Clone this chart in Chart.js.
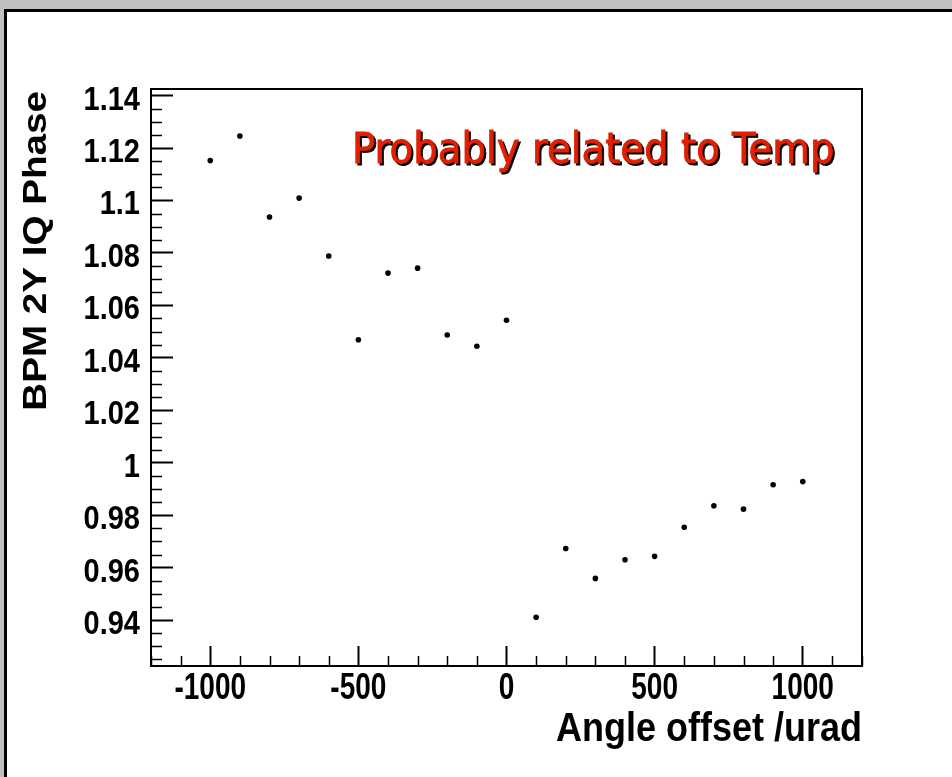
<!DOCTYPE html>
<html>
<head>
<meta charset="utf-8">
<title>BPM 2Y IQ Phase vs angle offset</title>
<script src="https://cdn.jsdelivr.net/npm/chart.js@4.4.1/dist/chart.umd.min.js"></script>
<style>
  html, body { margin: 0; padding: 0; background: #c0c0c0; }
  #wrap { position: relative; width: 952px; height: 777px; }
</style>
</head>
<body>
<div id="wrap"><canvas id="phase"></canvas></div>
<script>
// angle scan: offset (urad) against BPM 2Y IQ phase
const ANGLE_OFFSETS = [-1000, -900, -800, -700, -600, -500, -400, -300, -200, -100, 0,
                       100, 200, 300, 400, 500, 600, 700, 800, 900, 1000];
const IQ_PHASE = [1.1152, 1.1246, 1.0937, 1.1009, 1.0788, 1.0469, 1.0723, 1.0742, 1.0487, 1.0444, 1.0543,
                  0.9411, 0.9673, 0.9559, 0.9630, 0.9643, 0.9754, 0.9836, 0.9823, 0.9916, 0.9928];

const X_TICKS = [-1000, -500, 0, 500, 1000];
const Y_TICKS = [0.94, 0.96, 0.98, 1, 1.02, 1.04, 1.06, 1.08, 1.1, 1.12, 1.14];
const X_MINOR = 100;
const Y_MINOR = 0.005;

const X_TITLE = 'Angle offset /urad';
const Y_TITLE = 'BPM 2Y IQ Phase';
const NOTE = 'Probably related to Temp';

const FONT = "'Liberation Sans', Arial, sans-serif";

// the old ROOT output is drawn with tall, narrow lettering: scale the glyphs
function stretchedText(ctx, text, x, y, o) {
  ctx.save();
  ctx.translate(x, y);
  if (o.rotate) ctx.rotate(o.rotate);
  ctx.scale(o.sx || 1, o.sy || 1);
  ctx.font = o.font;
  ctx.textAlign = o.align || 'left';
  ctx.textBaseline = 'alphabetic';
  ctx.fillStyle = o.color || '#000';
  ctx.fillText(text, 0, 0);
  ctx.restore();
}

// grey pad, white canvas with a dark top/left edge
const padBackground = {
  id: 'padBackground',
  beforeDraw(chart) {
    const { ctx, width, height } = chart;
    ctx.save();
    ctx.fillStyle = '#c0c0c0';
    ctx.fillRect(0, 0, width, height);
    ctx.fillStyle = '#fff';
    ctx.fillRect(4, 9, width - 4, height - 9);
    ctx.fillStyle = '#000';
    ctx.fillRect(4, 9, width - 4, 3);
    ctx.fillRect(4, 9, 3, height - 9);
    ctx.restore();
  },
};

// frame on top/right, minor ticks, labels, titles and the note
const frameAndText = {
  id: 'frameAndText',
  afterDraw(chart) {
    const { ctx, chartArea: a, scales: { x, y } } = chart;
    ctx.save();
    ctx.strokeStyle = '#000';
    ctx.lineWidth = 2;
    ctx.beginPath();
    ctx.moveTo(a.left, a.top);
    ctx.lineTo(a.right, a.top);
    ctx.lineTo(a.right, a.bottom);
    ctx.stroke();

    ctx.lineWidth = 1.5;
    ctx.beginPath();
    for (let v = Math.ceil(x.min / X_MINOR) * X_MINOR; v <= x.max; v += X_MINOR) {
      if (v % 500 === 0) continue;
      const px = Math.round(x.getPixelForValue(v)) + 0.5;
      ctx.moveTo(px, a.bottom);
      ctx.lineTo(px, a.bottom - 10);
    }
    for (let i = Math.ceil(y.min / Y_MINOR); i * Y_MINOR <= y.max; i++) {
      if (i % 4 === 0) continue;
      const py = Math.round(y.getPixelForValue(i * Y_MINOR)) + 0.5;
      ctx.moveTo(a.left, py);
      ctx.lineTo(a.left + 11, py);
    }
    ctx.stroke();
    ctx.restore();

    // tick labels
    x.ticks.forEach(t => {
      stretchedText(ctx, String(t.value), x.getPixelForValue(t.value), a.bottom + 33,
        { font: 'bold 28px ' + FONT, sy: 1.3, align: 'center' });
    });
    y.ticks.forEach(t => {
      stretchedText(ctx, String(+t.value.toFixed(2)), a.left - 11, y.getPixelForValue(t.value) + 14,
        { font: 'bold 29px ' + FONT, sy: 1.12, align: 'right' });
    });

    // axis titles, right-aligned to the frame ends
    stretchedText(ctx, X_TITLE, a.right, a.bottom + 75,
      { font: 'bold 36px ' + FONT, sy: 1.12, align: 'right' });
    stretchedText(ctx, Y_TITLE, 46, a.top + 2,
      { font: 'bold 33px ' + FONT, sx: 1.17, rotate: -Math.PI / 2, align: 'right' });

    // red note with a dark drop shadow
    ctx.save();
    ctx.font = "43px 'DejaVu Sans Condensed', 'DejaVu Sans', sans-serif";
    ctx.textBaseline = 'alphabetic';
    ctx.textAlign = 'left';
    ctx.lineWidth = 0.8;
    ctx.fillStyle = ctx.strokeStyle = '#000';
    ctx.fillText(NOTE, a.left + 203, a.top + 76);
    ctx.strokeText(NOTE, a.left + 203, a.top + 76);
    ctx.fillStyle = ctx.strokeStyle = '#e02000';
    ctx.fillText(NOTE, a.left + 201, a.top + 74);
    ctx.strokeText(NOTE, a.left + 201, a.top + 74);
    ctx.restore();
  },
};

new Chart(document.getElementById('phase'), {
  type: 'scatter',
  data: {
    datasets: [{
      data: ANGLE_OFFSETS.map((a, i) => ({ x: a, y: IQ_PHASE[i] })),
      backgroundColor: '#000',
      borderWidth: 0,
      pointRadius: 2.8,
      pointHoverRadius: 2.8,
    }],
  },
  options: {
    responsive: true,
    maintainAspectRatio: false,
    animation: false,
    events: [],
    layout: { padding: { left: 7, top: 89, right: 90, bottom: 0 } },
    plugins: { legend: { display: false }, tooltip: { enabled: false } },
    scales: {
      x: {
        type: 'linear',
        min: -1200,
        max: 1200,
        afterBuildTicks: s => { s.ticks = X_TICKS.map(v => ({ value: v })); },
        afterFit: s => { s.height = 111; },
        ticks: { display: false },
        grid: { drawOnChartArea: false, tickLength: -20, tickWidth: 2, tickColor: '#000' },
        border: { color: '#000', width: 2 },
      },
      y: {
        type: 'linear',
        min: 0.9225,
        max: 1.1425,
        afterBuildTicks: s => { s.ticks = Y_TICKS.map(v => ({ value: v })); },
        afterFit: s => { s.width = 144; },
        ticks: { display: false },
        grid: { drawOnChartArea: false, tickLength: -22, tickWidth: 2, tickColor: '#000' },
        border: { color: '#000', width: 2 },
      },
    },
  },
  plugins: [padBackground, frameAndText],
});
</script>
</body>
</html>
